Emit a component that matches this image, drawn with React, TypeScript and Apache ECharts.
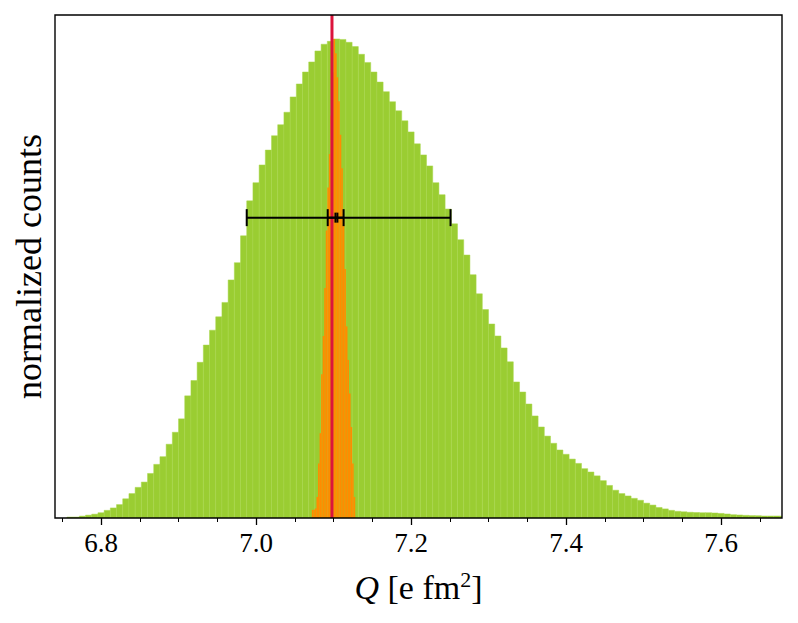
import React, { useEffect, useRef } from "react";
import * as echarts from "echarts";

// ---- data ----
const greenStart = 6.756;
const greenBinWidth = 0.008;
const greenCounts = [
  0.002, 0.002, 0.004, 0.006, 0.008, 0.011, 0.016, 0.021, 0.028, 0.040,
  0.051, 0.064, 0.075, 0.093, 0.112, 0.128, 0.154, 0.179, 0.207, 0.255,
  0.287, 0.325, 0.361, 0.392, 0.420, 0.450, 0.497, 0.533, 0.589, 0.662,
  0.700, 0.737, 0.768, 0.798, 0.821, 0.847, 0.879, 0.906, 0.931, 0.952,
  0.975, 0.989, 0.995, 1.000, 0.999, 0.993, 0.984, 0.968, 0.951, 0.931,
  0.910, 0.890, 0.869, 0.850, 0.829, 0.806, 0.781, 0.758, 0.735, 0.700,
  0.675, 0.645, 0.614, 0.581, 0.549, 0.508, 0.468, 0.435, 0.405, 0.380,
  0.355, 0.326, 0.284, 0.263, 0.238, 0.213, 0.190, 0.171, 0.156, 0.142,
  0.133, 0.123, 0.114, 0.103, 0.096, 0.088, 0.078, 0.068, 0.058, 0.051,
  0.046, 0.041, 0.037, 0.031, 0.027, 0.022, 0.019, 0.016, 0.014, 0.013,
  0.012, 0.0115, 0.011, 0.011, 0.0105, 0.0096, 0.0084, 0.0069, 0.0063, 0.0056,
  0.005, 0.0048, 0.0042, 0.0042, 0.0042, 0.004,
];

const orangeStart = 7.072;
const orangeBinWidth = 0.002;
const orangeCounts = [
  0.017, 0.017, 0.02, 0.044, 0.114, 0.177, 0.30, 0.38, 0.48, 0.60,
  0.69, 0.76, 0.84, 0.93, 1.0, 0.97, 0.92, 0.87, 0.80, 0.73,
  0.63, 0.52, 0.40, 0.33, 0.26, 0.19, 0.114, 0.044,
];

const trueValue = 7.098;
const errorBarLevel = 0.627;
const errorBarLows = [6.988, 7.0925, 7.1025];
const errorBarHighs = [7.251, 7.113, 7.105];
const errorBarCaps = [8.5, 8.5, 5];

const xTickValues = [6.8, 7.0, 7.2, 7.4, 7.6];
const xMin = 6.7406;
const xMax = 7.6787;
const yMax = 1.05;

const FONT = "'Liberation Serif', 'Times New Roman', serif";

function histData(start: number, width: number, counts: number[]) {
  return counts.map((c, i) => [start + i * width, start + (i + 1) * width, c]);
}

function histRender(fill: string, stroke: string | null) {
  return (params: any, api: any) => {
    const p0 = api.coord([api.value(0), api.value(2)]);
    const p1 = api.coord([api.value(1), 0]);
    return {
      type: "rect",
      shape: { x: p0[0], y: p0[1], width: p1[0] - p0[0], height: p1[1] - p0[1] },
      style: stroke ? { fill, stroke, lineWidth: 0.5 } : { fill },
    };
  };
}

export default function App() {
  const ref = useRef<HTMLDivElement>(null);
  useEffect(() => {
    if (!ref.current) return;
    const chart = echarts.init(ref.current, null, { renderer: "svg" });
    const option: any = {
      animation: false,
      backgroundColor: "#fff",
      grid: {
        left: 55,
        right: 16,
        top: 15,
        bottom: 105,
        show: true,
        borderColor: "#000",
        borderWidth: 1.4,
        backgroundColor: "transparent",
        z: 10,
      },
      xAxis: {
        type: "value",
        min: xMin,
        max: xMax,
        splitNumber: 5,
        minInterval: 0.2,
        maxInterval: 0.2,
        axisLine: { show: false },
        splitLine: { show: false },
        axisTick: {
          show: true,
          length: 7,
          customValues: xTickValues,
          lineStyle: { color: "#000", width: 1.3 },
        },
        minorTick: {
          show: true,
          splitNumber: 4,
          length: 4,
          lineStyle: { color: "#000", width: 1 },
        },
        axisLabel: {
          customValues: xTickValues,
          formatter: (v: number) => v.toFixed(1),
          margin: 11,
          fontFamily: FONT,
          fontSize: 27,
          color: "#000",
        },
        name: "{q|Q}{n| [e fm}{s|2}{n|]}",
        nameLocation: "middle",
        nameGap: 50,
        nameTextStyle: {
          rich: {
            q: { fontFamily: FONT, fontSize: 34, fontStyle: "italic", color: "#000", verticalAlign: "bottom" },
            n: { fontFamily: FONT, fontSize: 34, color: "#000", verticalAlign: "bottom" },
            s: { fontFamily: FONT, fontSize: 22, color: "#000", verticalAlign: "top", padding: [0, 0, 14, 0] },
          },
        },
      },
      yAxis: {
        type: "value",
        min: 0,
        max: yMax,
        axisLine: { show: false },
        axisTick: { show: false },
        axisLabel: { show: false },
        splitLine: { show: false },
        name: "normalized counts",
        nameLocation: "middle",
        nameRotate: 90,
        nameGap: 8,
        nameTextStyle: { fontFamily: FONT, fontSize: 36, color: "#000" },
      },
      series: [
        {
          type: "custom",
          name: "green",
          clip: true,
          z: 1,
          renderItem: histRender("#9acd32", "#a9d64a"),
          encode: { x: [0, 1], y: 2 },
          data: histData(greenStart, greenBinWidth, greenCounts),
        },
        {
          type: "custom",
          name: "orange",
          clip: true,
          z: 2,
          renderItem: histRender("#ff8c00", null),
          encode: { x: [0, 1], y: 2 },
          data: histData(orangeStart, orangeBinWidth, orangeCounts),
        },
        {
          type: "line",
          z: 3,
          symbol: "none",
          lineStyle: { color: "#dc143c", width: 3 },
          data: [
            [trueValue, 0],
            [trueValue, yMax],
          ],
        },
        {
          type: "custom",
          name: "errorbars",
          z: 4,
          renderItem: (params: any, api: any) => {
            const lo = api.coord([api.value(0), api.value(2)]);
            const hi = api.coord([api.value(1), api.value(2)]);
            const cap = api.value(3);
            const st = { stroke: "#000", lineWidth: 2 };
            return {
              type: "group",
              children: [
                { type: "line", shape: { x1: lo[0], y1: lo[1], x2: hi[0], y2: hi[1] }, style: st },
                { type: "line", shape: { x1: lo[0], y1: lo[1] - cap, x2: lo[0], y2: lo[1] + cap }, style: st },
                { type: "line", shape: { x1: hi[0], y1: hi[1] - cap, x2: hi[0], y2: hi[1] + cap }, style: st },
              ],
            };
          },
          encode: { x: [0, 1], y: 2 },
          data: errorBarLows.map((lo, i) => [lo, errorBarHighs[i], errorBarLevel, errorBarCaps[i]]),
        },
      ],
    };
    chart.setOption(option);
    return () => chart.dispose();
  }, []);
  return (
    <div
      ref={ref}
      style={{ position: "fixed", left: 0, top: 0, width: 798, height: 623, background: "#fff" }}
    />
  );
}
